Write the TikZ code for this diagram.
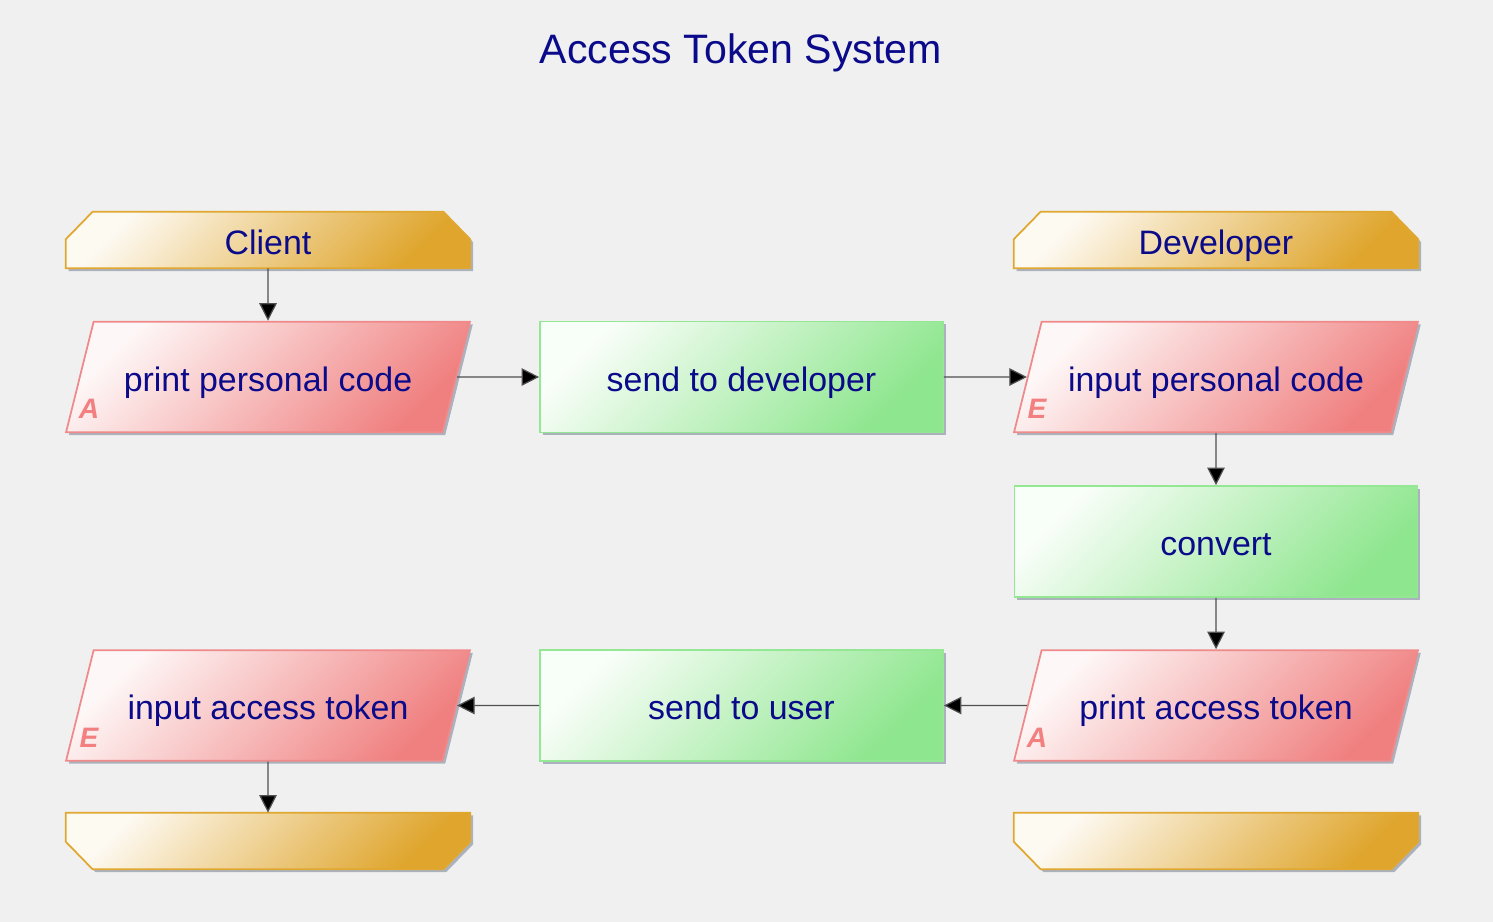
\documentclass[tikz,border=0pt]{standalone}
\usepackage{fontspec}
\setmainfont{Liberation Sans}
\usetikzlibrary{arrows.meta,positioning,shapes.geometric,shadows,backgrounds}

\definecolor{bgcol}{HTML}{F0F0F0}
\definecolor{navytext}{HTML}{0A0A8A}
\definecolor{laneline}{HTML}{E0A830}
\definecolor{lanefill}{HTML}{DFA52C}
\definecolor{ioline}{HTML}{F08A8A}
\definecolor{iofill}{HTML}{F08080}
\definecolor{stepline}{HTML}{94E894}
\definecolor{stepfill}{HTML}{8EE68E}
\definecolor{tagcol}{HTML}{F28080}
\definecolor{shadowcol}{HTML}{A4ACB8}
\definecolor{flowcol}{HTML}{505050}

\begin{document}
\begin{tikzpicture}
    [
      x=0.02cm, y=-0.02cm,
      font=\fontsize{19.3}{23}\selectfont,
      every node/.style={text=navytext},
      shade/.style={drop shadow={shadow xshift=1.6pt,shadow yshift=-1.6pt,fill=shadowcol,opacity=.9}},
      boxtext/.style={text height=19pt,text depth=3pt},
      lane/.style={rectangle,boxtext,inner sep=0pt,minimum width=8.08cm,minimum height=1.12cm},
      lanebody/.style={draw=laneline,line width=1pt,shade,top color=lanefill!6,bottom color=lanefill,shading angle=45},
      io/.style={trapezium,trapezium left angle=76,trapezium right angle=104,trapezium stretches body=true,
        boxtext,inner ysep=20.5pt,minimum width=8.08cm,draw=ioline,line width=1pt,
        shade,top color=iofill!6,bottom color=iofill,shading angle=45},
      stepbox/.style={rectangle,boxtext,minimum width=8.06cm,minimum height=2.22cm,draw=stepline,line width=1pt,
        shade,top color=stepfill!6,bottom color=stepfill,shading angle=45},
      tag/.style={text=tagcol,font=\fontsize{16}{18}\selectfont\bfseries\itshape},
      flow/.style={-{Triangle[length=10pt,width=10pt,fill=black]},draw=flowcol,line width=0.7pt},
    ]

    \useasboundingbox (0,0) rectangle (1493,922);

    \node (title) at (741,53) {\fontsize{23.4}{28}\selectfont Access Token System};

    \node (client) [lane] at (268,240) {Client};
    \node (developer) [lane] at (1216,240) {Developer};

    \node (print-code) [io] at (268,377) {print personal code};
    \node (send-dev) [stepbox] at (741.5,377) {send to developer};
    \node (input-code) [io] at (1216,377) {input personal code};

    \node (convert) [stepbox] at (1216,541.5) {convert};

    \node (print-token) [io] at (1216,705.5) {print access token};
    \node (send-user) [stepbox] at (741.5,705.5) {send to user};
    \node (input-token) [io] at (268,705.5) {input access token};

    \node (end-client) [lane] at (268,841) {};
    \node (end-developer) [lane] at (1216,841) {};

    \node (tag-pc) [tag] at ([shift={(24,-24)}]print-code.bottom left corner) {A};
    \node (tag-ic) [tag] at ([shift={(24,-24)}]input-code.bottom left corner) {E};
    \node (tag-pt) [tag] at ([shift={(24,-24)}]print-token.bottom left corner) {A};
    \node (tag-it) [tag] at ([shift={(24,-24)}]input-token.bottom left corner) {E};

    \path [flow]
    (client) edge (print-code)
    (print-code) edge (send-dev)
    (send-dev) edge (input-code)
    (input-code) edge (convert)
    (convert) edge (print-token)
    (print-token) edge (send-user)
    (send-user) edge (input-token)
    (input-token) edge (end-client)
    ;

    % lane heads and ends, chamfered
    \begin{scope}[on background layer]
      \fill [bgcol] (0,0) rectangle (1493,922);
      \foreach \n in {client,developer}
        \path [lanebody] (\n.south west) -- ([shift={(0,-29)}]\n.south west)
          -- ([shift={(27,0)}]\n.north west) -- ([shift={(-27,0)}]\n.north east)
          -- ([shift={(0,-29)}]\n.south east) -- (\n.south east) -- cycle;
      \foreach \n in {end-client,end-developer}
        \path [lanebody] (\n.north west) -- (\n.north east)
          -- ([shift={(0,29)}]\n.north east) -- ([shift={(-27,0)}]\n.south east)
          -- ([shift={(27,0)}]\n.south west) -- ([shift={(0,29)}]\n.north west) -- cycle;
    \end{scope}

\end{tikzpicture}
\end{document}
